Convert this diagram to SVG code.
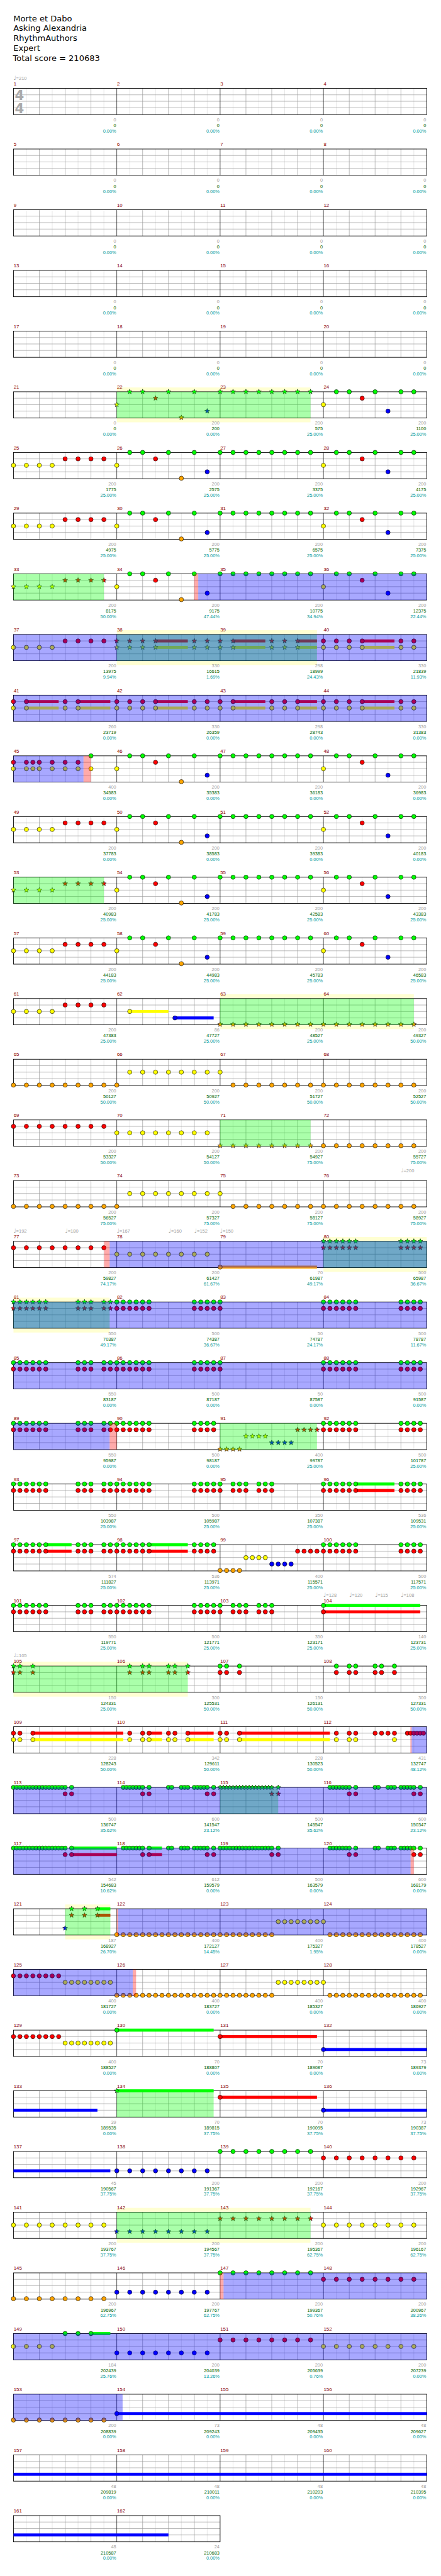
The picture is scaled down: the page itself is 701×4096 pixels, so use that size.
<svg xmlns="http://www.w3.org/2000/svg" width="701" height="4096" viewBox="0 0 701 4096">
<style>
.mn{font-family:"Liberation Sans",Arial,sans-serif;font-size:11.5px;fill:#8b0000}
.s1,.s2,.s3{font-family:"Liberation Sans",Arial,sans-serif;font-size:10.8px;text-anchor:end}
.s1{fill:#a0a0a0}.s2{fill:#006400}.s3{fill:#009999}
.tp{font-family:"Liberation Sans","DejaVu Sans",sans-serif;font-size:11px;fill:#a0a0a0}
.tt{font-family:"DejaVu Sans",sans-serif;font-size:19px;fill:#000}
.ts{font-family:"DejaVu Sans",sans-serif;font-weight:bold;font-size:31px;fill:#aaa}
.bl{fill:#0000ff;fill-opacity:.34}
.gr{fill:#00ff00;fill-opacity:.333}
.pk{fill:#ff0000;fill-opacity:.333}
.yb{fill:#ffffd2}
.kG{fill:#00ff00}.kR{fill:#ff0000}.kY{fill:#ffff00}.kB{fill:#0000ff}.kO{fill:#ffa500}
</style>
<defs>
<g id="staff4">
<rect width="960" height="61" fill="#fff"/>
<path d="M30 0V61M90 0V61M150 0V61M210 0V61M270 0V61M330 0V61M390 0V61M450 0V61M510 0V61M570 0V61M630 0V61M690 0V61M750 0V61M810 0V61M870 0V61M930 0V61" stroke="#dcdcdc"/>
<path d="M60 0V61M120 0V61M180 0V61M300 0V61M360 0V61M420 0V61M540 0V61M600 0V61M660 0V61M780 0V61M840 0V61M900 0V61M0 15H960M0 30H960M0 45H960" stroke="#999"/>
<path d="M240 0V61M480 0V61M720 0V61" stroke="#000"/>
<rect width="960" height="61" fill="none" stroke="#000" stroke-width="1.3"/>
</g>
<g id="staff2">
<rect width="480" height="61" fill="#fff"/>
<path d="M30 0V61M90 0V61M150 0V61M210 0V61M270 0V61M330 0V61M390 0V61M450 0V61" stroke="#dcdcdc"/>
<path d="M60 0V61M120 0V61M180 0V61M300 0V61M360 0V61M420 0V61M0 15H480M0 30H480M0 45H480" stroke="#999"/>
<path d="M240 0V61" stroke="#000"/>
<rect width="480" height="61" fill="none" stroke="#000" stroke-width="1.3"/>
</g>
<circle id="c" r="5" stroke="#000" stroke-width="0.9"/>
<polygon id="st" points="0,-6 1.53,-2.1 5.71,-1.85 2.47,0.8 3.53,4.85 0,2.6 -3.53,4.85 -2.47,0.8 -5.71,-1.85 -1.53,-2.1" stroke="#000" stroke-width="0.8"/>
<use id="G" href="#c" fill="#00ff00"/>
<use id="R" href="#c" y="15" fill="#ff0000"/>
<use id="Y" href="#c" y="30" fill="#ffff00"/>
<use id="B" href="#c" y="45" fill="#0000ff"/>
<use id="O" href="#c" y="60" fill="#ffa500"/>
<use id="sG" href="#st" fill="#00ff00"/>
<use id="sR" href="#st" y="15" fill="#ff0000"/>
<use id="sY" href="#st" y="30" fill="#ffff00"/>
<use id="sB" href="#st" y="45" fill="#0000ff"/>
<use id="sO" href="#st" y="60" fill="#ffa500"/>
<g id="G8"><use href="#G"/><use href="#G" x="30"/><use href="#G" x="60"/><use href="#G" x="90"/><use href="#G" x="120"/><use href="#G" x="150"/><use href="#G" x="180"/><use href="#G" x="210"/></g>
<g id="R8"><use href="#R"/><use href="#R" x="30"/><use href="#R" x="60"/><use href="#R" x="90"/><use href="#R" x="120"/><use href="#R" x="150"/><use href="#R" x="180"/><use href="#R" x="210"/></g>
<g id="Y8"><use href="#Y"/><use href="#Y" x="30"/><use href="#Y" x="60"/><use href="#Y" x="90"/><use href="#Y" x="120"/><use href="#Y" x="150"/><use href="#Y" x="180"/><use href="#Y" x="210"/></g>
<g id="B8"><use href="#B"/><use href="#B" x="30"/><use href="#B" x="60"/><use href="#B" x="90"/><use href="#B" x="120"/><use href="#B" x="150"/><use href="#B" x="180"/><use href="#B" x="210"/></g>
<g id="O8"><use href="#O"/><use href="#O" x="30"/><use href="#O" x="60"/><use href="#O" x="90"/><use href="#O" x="120"/><use href="#O" x="150"/><use href="#O" x="180"/><use href="#O" x="210"/></g>
<g id="sG8"><use href="#sG"/><use href="#sG" x="30"/><use href="#sG" x="60"/><use href="#sG" x="90"/><use href="#sG" x="120"/><use href="#sG" x="150"/><use href="#sG" x="180"/><use href="#sG" x="210"/></g>
<g id="sR8"><use href="#sR"/><use href="#sR" x="30"/><use href="#sR" x="60"/><use href="#sR" x="90"/><use href="#sR" x="120"/><use href="#sR" x="150"/><use href="#sR" x="180"/><use href="#sR" x="210"/></g>
<g id="sB8"><use href="#sB"/><use href="#sB" x="30"/><use href="#sB" x="60"/><use href="#sB" x="90"/><use href="#sB" x="120"/><use href="#sB" x="150"/><use href="#sB" x="180"/><use href="#sB" x="210"/></g>
<g id="sO8"><use href="#sO"/><use href="#sO" x="30"/><use href="#sO" x="60"/><use href="#sO" x="90"/><use href="#sO" x="120"/><use href="#sO" x="150"/><use href="#sO" x="180"/><use href="#sO" x="210"/></g>
<g id="Y4"><use href="#Y"/><use href="#Y" x="30"/><use href="#Y" x="60"/><use href="#Y" x="90"/></g>
<g id="R4"><use href="#R"/><use href="#R" x="30"/><use href="#R" x="60"/><use href="#R" x="90"/></g>
<g id="sY4"><use href="#sY"/><use href="#sY" x="30"/><use href="#sY" x="60"/><use href="#sY" x="90"/></g>
<g id="sR4"><use href="#sR"/><use href="#sR" x="30"/><use href="#sR" x="60"/><use href="#sR" x="90"/></g>
<g id="pR1"><use href="#Y4"/><use href="#R4" x="120"/></g>
<g id="sR1"><use href="#sY4"/><use href="#sR4" x="120"/></g>
<g id="pR2"><use href="#Y"/><use href="#G" x="30"/><use href="#G" x="60"/><use href="#R" x="90"/><use href="#G" x="120"/><use href="#O" x="150"/><use href="#G" x="180"/><use href="#B" x="210"/></g>
<g id="sR2"><use href="#sY"/><use href="#sG" x="30"/><use href="#sG" x="60"/><use href="#sR" x="90"/><use href="#sG" x="120"/><use href="#sO" x="150"/><use href="#sG" x="180"/><use href="#sB" x="210"/></g>
<g id="pR4"><use href="#Y"/><use href="#G" x="30"/><use href="#G" x="60"/><use href="#R" x="90"/><use href="#G" x="120"/><use href="#B" x="150"/><use href="#G" x="180"/><use href="#G" x="210"/></g>
<g id="rowR"><use href="#pR1"/><use href="#pR2" x="240"/><use href="#G8" x="480"/><use href="#pR4" x="720"/></g>
<g id="rowS"><use href="#sR1"/><use href="#pR2" x="240"/><use href="#G8" x="480"/><use href="#pR4" x="720"/></g>
<g id="rowOY"><use href="#O8"/><use href="#O" x="240"/><use href="#Y8" x="270"/><use href="#O8" x="510"/><use href="#O" x="750"/><use href="#O" x="780"/><use href="#O" x="810"/><use href="#O" x="840"/><use href="#O" x="870"/><use href="#O" x="900"/><use href="#O" x="930"/></g>
<g id="C"><use href="#G"/><use href="#R"/></g>
<g id="SC"><use href="#sG"/><use href="#sR"/></g>
<g id="RY"><use href="#R"/><use href="#Y"/></g>
<g id="sRY"><use href="#sR"/><use href="#sY"/></g>
<g id="Pa"><use href="#C"/><use href="#C" x="15"/><use href="#C" x="30"/><use href="#C" x="45"/><use href="#C" x="60"/><use href="#C" x="75"/><use href="#C" x="150"/><use href="#C" x="165"/><use href="#C" x="180"/><use href="#C" x="210"/><use href="#C" x="225"/><use href="#C" x="240"/><use href="#C" x="255"/><use href="#C" x="270"/><use href="#C" x="285"/><use href="#C" x="300"/><use href="#C" x="315"/><use href="#C" x="420"/><use href="#C" x="435"/><use href="#C" x="450"/><use href="#C" x="465"/></g>
<g id="Pb"><use href="#C"/><use href="#C" x="15"/><use href="#C" x="30"/><use href="#C" x="45"/><use href="#C" x="60"/><use href="#C" x="75"/><use href="#C" x="180"/><use href="#C" x="195"/><use href="#C" x="210"/><use href="#C" x="225"/></g>
<g id="Pc"><use href="#C"/><use href="#C" x="30"/><use href="#C" x="45"/><use href="#C" x="60"/><use href="#C" x="90"/><use href="#C" x="105"/><use href="#C" x="120"/></g>
<g id="run"><use href="#O"/><use href="#O" x="15"/><use href="#O" x="30"/><use href="#O" x="45"/><use href="#Y" x="60"/><use href="#Y" x="75"/><use href="#Y" x="90"/><use href="#Y" x="105"/><use href="#B" x="120"/><use href="#B" x="135"/><use href="#B" x="150"/><use href="#B" x="165"/><use href="#R" x="180"/><use href="#R" x="195"/><use href="#R" x="210"/><use href="#R" x="225"/></g>
<g id="srun"><use href="#sO"/><use href="#sO" x="15"/><use href="#sO" x="30"/><use href="#sO" x="45"/><use href="#sY" x="60"/><use href="#sY" x="75"/><use href="#sY" x="90"/><use href="#sY" x="105"/><use href="#sB" x="120"/><use href="#sB" x="135"/><use href="#sB" x="150"/><use href="#sB" x="165"/><use href="#sR" x="180"/><use href="#sR" x="195"/><use href="#sR" x="210"/><use href="#sR" x="225"/></g>
<g id="RYa"><use href="#RY" x="240"/><use href="#RY" x="270"/><use href="#RY" x="300"/><use href="#RY" x="330"/><use href="#RY" x="420"/><use href="#RY" x="450"/><use href="#RY" x="480"/><use href="#RY" x="510"/><use href="#RY" x="600"/><use href="#RY" x="630"/><use href="#RY" x="660"/></g>
<g id="sRYa"><use href="#sRY" x="240"/><use href="#sRY" x="270"/><use href="#sRY" x="300"/><use href="#sRY" x="330"/><use href="#sRY" x="420"/><use href="#sRY" x="450"/><use href="#sRY" x="480"/><use href="#sRY" x="510"/><use href="#sRY" x="600"/><use href="#sRY" x="630"/><use href="#sRY" x="660"/></g>
<g id="RYb"><use href="#RY" x="720"/><use href="#RY" x="750"/><use href="#RY" x="780"/><use href="#RY" x="810"/><use href="#RY" x="900"/><use href="#RY" x="930"/></g>
<g id="RYs"><rect class="kR" x="330" y="11.5" width="75" height="7"/><rect class="kY" x="330" y="26.5" width="75" height="7"/><rect class="kR" x="510" y="11.5" width="75" height="7"/><rect class="kY" x="510" y="26.5" width="75" height="7"/><rect class="kR" x="660" y="11.5" width="45" height="7"/><rect class="kY" x="660" y="26.5" width="45" height="7"/><rect class="kR" x="810" y="11.5" width="75" height="7"/><rect class="kY" x="810" y="26.5" width="75" height="7"/></g>
<g id="D1"><use href="#G"/><use href="#G" x="7.5"/><use href="#G" x="15"/><use href="#G" x="22.5"/><use href="#G" x="30"/><use href="#G" x="37.5"/><use href="#G" x="45"/><use href="#G" x="52.5"/><use href="#G" x="60"/><use href="#G" x="67.5"/><use href="#G" x="75"/><use href="#G" x="82.5"/><use href="#G" x="90"/><use href="#G" x="97.5"/><use href="#G" x="105"/><use href="#G" x="112.5"/><use href="#G" x="120"/><use href="#G" x="135"/><use href="#R" x="120"/><use href="#R" x="135"/></g>
<g id="sD1"><use href="#sG"/><use href="#sG" x="7.5"/><use href="#sG" x="15"/><use href="#sG" x="22.5"/><use href="#sG" x="30"/><use href="#sG" x="37.5"/><use href="#sG" x="45"/><use href="#sG" x="52.5"/><use href="#sG" x="60"/><use href="#sG" x="67.5"/><use href="#sG" x="75"/><use href="#sG" x="82.5"/><use href="#sG" x="90"/><use href="#sG" x="97.5"/><use href="#sG" x="105"/><use href="#sG" x="112.5"/><use href="#sG" x="120"/><use href="#sG" x="135"/><use href="#sR" x="120"/><use href="#sR" x="135"/></g>
<g id="D2"><use href="#G" x="15"/><use href="#G" x="22.5"/><use href="#G" x="30"/><use href="#G" x="37.5"/><use href="#G" x="45"/><use href="#G" x="52.5"/><use href="#G" x="60"/><use href="#G" x="75"/><use href="#G" x="120"/><use href="#G" x="127.5"/><use href="#G" x="150"/><use href="#G" x="157.5"/><use href="#G" x="165"/><use href="#G" x="180"/><use href="#G" x="187.5"/><use href="#G" x="195"/><use href="#G" x="202.5"/><use href="#G" x="210"/><use href="#G" x="225"/><use href="#R" x="60"/><use href="#R" x="75"/><use href="#R" x="210"/><use href="#R" x="225"/></g>
<g id="O8q"><use href="#O"/><use href="#O" x="15"/><use href="#O" x="30"/><use href="#O" x="45"/><use href="#O" x="60"/><use href="#O" x="75"/><use href="#O" x="90"/><use href="#O" x="105"/></g>
<g id="Y8q"><use href="#Y"/><use href="#Y" x="15"/><use href="#Y" x="30"/><use href="#Y" x="45"/><use href="#Y" x="60"/><use href="#Y" x="75"/><use href="#Y" x="90"/><use href="#Y" x="105"/></g>
<g id="R8q"><use href="#R"/><use href="#R" x="15"/><use href="#R" x="30"/><use href="#R" x="45"/><use href="#R" x="60"/><use href="#R" x="75"/><use href="#R" x="90"/><use href="#R" x="105"/></g>
<g id="oyr"><use href="#O8q" x="240"/><use href="#O8q" x="360"/><use href="#O8q" x="480"/><use href="#O" x="600"/><use href="#Y8q" x="615"/><use href="#O8q" x="735"/><use href="#O" x="855"/><use href="#O" x="870"/><use href="#O" x="885"/><use href="#O" x="900"/><use href="#O" x="915"/><use href="#O" x="930"/><use href="#O" x="945"/></g>
</defs>
<rect width="701" height="4096" fill="#fff"/>
<g transform="scale(0.6843)">
<g id="title">
<text class="tt" x="31" y="49.3">Morte et Dabo</text>
<text class="tt" x="31" y="72">Asking Alexandria</text>
<text class="tt" x="31" y="95">RhythmAuthors</text>
<text class="tt" x="31" y="118">Expert</text>
<text class="tt" x="30" y="141.3">Total score = 210683</text>
</g>

<g id="r1" transform="translate(31.3,205.3)">
<use href="#staff4"/>
<text class="ts" x="3" y="27.4">4</text><text class="ts" x="3" y="57.4">4</text>
<text class="tp" x="0" y="-20"><tspan font-family="DejaVu Sans" font-size="13">♩</tspan>=210</text>
<text class="mn" y="-7"><tspan x="0.5">1</tspan><tspan x="240.5">2</tspan><tspan x="480.5">3</tspan><tspan x="720.5">4</tspan></text>
<text class="s1" y="76.7"><tspan x="238.5">0</tspan><tspan x="478.5">0</tspan><tspan x="718.5">0</tspan><tspan x="958.5">0</tspan></text>
<text class="s2" y="90"><tspan x="238.5">0</tspan><tspan x="478.5">0</tspan><tspan x="718.5">0</tspan><tspan x="958.5">0</tspan></text>
<text class="s3" y="103"><tspan x="238.5">0.00%</tspan><tspan x="478.5">0.00%</tspan><tspan x="718.5">0.00%</tspan><tspan x="958.5">0.00%</tspan></text>
</g>
<g id="r2" transform="translate(31.3,346.3)">
<use href="#staff4"/>
<text class="mn" y="-7"><tspan x="0.5">5</tspan><tspan x="240.5">6</tspan><tspan x="480.5">7</tspan><tspan x="720.5">8</tspan></text>
<text class="s1" y="76.7"><tspan x="238.5">0</tspan><tspan x="478.5">0</tspan><tspan x="718.5">0</tspan><tspan x="958.5">0</tspan></text>
<text class="s2" y="90"><tspan x="238.5">0</tspan><tspan x="478.5">0</tspan><tspan x="718.5">0</tspan><tspan x="958.5">0</tspan></text>
<text class="s3" y="103"><tspan x="238.5">0.00%</tspan><tspan x="478.5">0.00%</tspan><tspan x="718.5">0.00%</tspan><tspan x="958.5">0.00%</tspan></text>
</g>
<g id="r3" transform="translate(31.3,487.3)">
<use href="#staff4"/>
<text class="mn" y="-7"><tspan x="0.5">9</tspan><tspan x="240.5">10</tspan><tspan x="480.5">11</tspan><tspan x="720.5">12</tspan></text>
<text class="s1" y="76.7"><tspan x="238.5">0</tspan><tspan x="478.5">0</tspan><tspan x="718.5">0</tspan><tspan x="958.5">0</tspan></text>
<text class="s2" y="90"><tspan x="238.5">0</tspan><tspan x="478.5">0</tspan><tspan x="718.5">0</tspan><tspan x="958.5">0</tspan></text>
<text class="s3" y="103"><tspan x="238.5">0.00%</tspan><tspan x="478.5">0.00%</tspan><tspan x="718.5">0.00%</tspan><tspan x="958.5">0.00%</tspan></text>
</g>
<g id="r4" transform="translate(31.3,628.3)">
<use href="#staff4"/>
<text class="mn" y="-7"><tspan x="0.5">13</tspan><tspan x="240.5">14</tspan><tspan x="480.5">15</tspan><tspan x="720.5">16</tspan></text>
<text class="s1" y="76.7"><tspan x="238.5">0</tspan><tspan x="478.5">0</tspan><tspan x="718.5">0</tspan><tspan x="958.5">0</tspan></text>
<text class="s2" y="90"><tspan x="238.5">0</tspan><tspan x="478.5">0</tspan><tspan x="718.5">0</tspan><tspan x="958.5">0</tspan></text>
<text class="s3" y="103"><tspan x="238.5">0.00%</tspan><tspan x="478.5">0.00%</tspan><tspan x="718.5">0.00%</tspan><tspan x="958.5">0.00%</tspan></text>
</g>
<g id="r5" transform="translate(31.3,769.3)">
<use href="#staff4"/>
<text class="mn" y="-7"><tspan x="0.5">17</tspan><tspan x="240.5">18</tspan><tspan x="480.5">19</tspan><tspan x="720.5">20</tspan></text>
<text class="s1" y="76.7"><tspan x="238.5">0</tspan><tspan x="478.5">0</tspan><tspan x="718.5">0</tspan><tspan x="958.5">0</tspan></text>
<text class="s2" y="90"><tspan x="238.5">0</tspan><tspan x="478.5">0</tspan><tspan x="718.5">0</tspan><tspan x="958.5">0</tspan></text>
<text class="s3" y="103"><tspan x="238.5">0.00%</tspan><tspan x="478.5">0.00%</tspan><tspan x="718.5">0.00%</tspan><tspan x="958.5">0.00%</tspan></text>
</g>
<g id="r6" transform="translate(31.3,910.3)">
<rect class="yb" x="240" y="-10" width="450" height="81"/>
<use href="#staff4"/>
<use href="#sR2" x="240"/><use href="#sG8" x="480"/><use href="#pR4" x="720"/>
<rect class="gr" x="240" width="450" height="61"/>
<text class="mn" y="-7"><tspan x="0.5">21</tspan><tspan x="240.5">22</tspan><tspan x="480.5">23</tspan><tspan x="720.5">24</tspan></text>
<text class="s1" y="76.7"><tspan x="238.5">0</tspan><tspan x="478.5">200</tspan><tspan x="718.5">200</tspan><tspan x="958.5">200</tspan></text>
<text class="s2" y="90"><tspan x="238.5">0</tspan><tspan x="478.5">200</tspan><tspan x="718.5">575</tspan><tspan x="958.5">1100</tspan></text>
<text class="s3" y="103"><tspan x="238.5">0.00%</tspan><tspan x="478.5">0.00%</tspan><tspan x="718.5">25.00%</tspan><tspan x="958.5">25.00%</tspan></text>
</g>
<g id="r7" transform="translate(31.3,1051.3)">
<use href="#staff4"/><use href="#rowR"/>
<text class="mn" y="-7"><tspan x="0.5">25</tspan><tspan x="240.5">26</tspan><tspan x="480.5">27</tspan><tspan x="720.5">28</tspan></text>
<text class="s1" y="76.7"><tspan x="238.5">200</tspan><tspan x="478.5">200</tspan><tspan x="718.5">200</tspan><tspan x="958.5">200</tspan></text>
<text class="s2" y="90"><tspan x="238.5">1775</tspan><tspan x="478.5">2575</tspan><tspan x="718.5">3375</tspan><tspan x="958.5">4175</tspan></text>
<text class="s3" y="103"><tspan x="238.5">25.00%</tspan><tspan x="478.5">25.00%</tspan><tspan x="718.5">25.00%</tspan><tspan x="958.5">25.00%</tspan></text>
</g>
<g id="r8" transform="translate(31.3,1192.3)">
<use href="#staff4"/><use href="#rowR"/>
<text class="mn" y="-7"><tspan x="0.5">29</tspan><tspan x="240.5">30</tspan><tspan x="480.5">31</tspan><tspan x="720.5">32</tspan></text>
<text class="s1" y="76.7"><tspan x="238.5">200</tspan><tspan x="478.5">200</tspan><tspan x="718.5">200</tspan><tspan x="958.5">200</tspan></text>
<text class="s2" y="90"><tspan x="238.5">4975</tspan><tspan x="478.5">5775</tspan><tspan x="718.5">6575</tspan><tspan x="958.5">7375</tspan></text>
<text class="s3" y="103"><tspan x="238.5">25.00%</tspan><tspan x="478.5">25.00%</tspan><tspan x="718.5">25.00%</tspan><tspan x="958.5">25.00%</tspan></text>
</g>
<g id="r9" transform="translate(31.3,1333.3)">
<use href="#staff4"/><use href="#rowS"/>
<rect class="gr" x="0" width="210" height="61"/>
<rect class="pk" x="420" width="9.2" height="61"/>
<rect class="bl" x="429.2" width="530.8" height="61"/>
<text class="mn" y="-7"><tspan x="0.5">33</tspan><tspan x="240.5">34</tspan><tspan x="480.5">35</tspan><tspan x="720.5">36</tspan></text>
<text class="s1" y="76.7"><tspan x="238.5">200</tspan><tspan x="478.5">200</tspan><tspan x="718.5">200</tspan><tspan x="958.5">200</tspan></text>
<text class="s2" y="90"><tspan x="238.5">8175</tspan><tspan x="478.5">9175</tspan><tspan x="718.5">10775</tspan><tspan x="958.5">12375</tspan></text>
<text class="s3" y="103"><tspan x="238.5">50.00%</tspan><tspan x="478.5">47.44%</tspan><tspan x="718.5">34.94%</tspan><tspan x="958.5">22.44%</tspan></text>
</g>
<g id="r10" transform="translate(31.3,1474.3)">
<rect class="yb" x="240" y="-10" width="465" height="81"/>
<use href="#staff4"/>
<use href="#RYs"/>
<use href="#pR1"/><use href="#sRYa"/><use href="#RYb"/>
<rect class="gr" x="240" width="465" height="61"/>
<rect class="bl" x="0" width="960" height="61"/>
<text class="mn" y="-7"><tspan x="0.5">37</tspan><tspan x="240.5">38</tspan><tspan x="480.5">39</tspan><tspan x="720.5">40</tspan></text>
<text class="s1" y="76.7"><tspan x="238.5">200</tspan><tspan x="478.5">330</tspan><tspan x="718.5">298</tspan><tspan x="958.5">330</tspan></text>
<text class="s2" y="90"><tspan x="238.5">13975</tspan><tspan x="478.5">16615</tspan><tspan x="718.5">18999</tspan><tspan x="958.5">21839</tspan></text>
<text class="s3" y="103"><tspan x="238.5">9.94%</tspan><tspan x="478.5">1.69%</tspan><tspan x="718.5">24.43%</tspan><tspan x="958.5">11.93%</tspan></text>
</g>
<g id="r11" transform="translate(31.3,1615.3)">
<use href="#staff4"/>
<use href="#RYs"/>
<rect class="kR" x="30" y="11.5" width="75" height="7"/><rect class="kY" x="30" y="26.5" width="75" height="7"/>
<rect class="kR" x="150" y="11.5" width="75" height="7"/><rect class="kY" x="150" y="26.5" width="75" height="7"/>
<use href="#RY"/><use href="#RY" x="30"/><use href="#RY" x="120"/><use href="#RY" x="150"/>
<use href="#RYa"/><use href="#RYb"/>
<rect class="bl" x="0" width="960" height="61"/>
<text class="mn" y="-7"><tspan x="0.5">41</tspan><tspan x="240.5">42</tspan><tspan x="480.5">43</tspan><tspan x="720.5">44</tspan></text>
<text class="s1" y="76.7"><tspan x="238.5">260</tspan><tspan x="478.5">330</tspan><tspan x="718.5">298</tspan><tspan x="958.5">330</tspan></text>
<text class="s2" y="90"><tspan x="238.5">23719</tspan><tspan x="478.5">26359</tspan><tspan x="718.5">28743</tspan><tspan x="958.5">31383</tspan></text>
<text class="s3" y="103"><tspan x="238.5">0.00%</tspan><tspan x="478.5">0.00%</tspan><tspan x="718.5">0.00%</tspan><tspan x="958.5">0.00%</tspan></text>
</g>
<g id="r12" transform="translate(31.3,1756.3)">
<use href="#staff4"/>
<use href="#RY"/><use href="#RY" x="30"/><use href="#RY" x="45"/><use href="#RY" x="60"/><use href="#RY" x="90"/><use href="#RY" x="120"/><use href="#RY" x="150"/>
<use href="#G" x="180"/><use href="#Y" x="180"/>
<use href="#pR2" x="240"/><use href="#G8" x="480"/><use href="#pR4" x="720"/>
<rect class="bl" x="0" width="162.7" height="61"/>
<rect class="pk" x="162.7" width="17.3" height="61"/>
<text class="mn" y="-7"><tspan x="0.5">45</tspan><tspan x="240.5">46</tspan><tspan x="480.5">47</tspan><tspan x="720.5">48</tspan></text>
<text class="s1" y="76.7"><tspan x="238.5">400</tspan><tspan x="478.5">200</tspan><tspan x="718.5">200</tspan><tspan x="958.5">200</tspan></text>
<text class="s2" y="90"><tspan x="238.5">34583</tspan><tspan x="478.5">35383</tspan><tspan x="718.5">36183</tspan><tspan x="958.5">36983</tspan></text>
<text class="s3" y="103"><tspan x="238.5">0.00%</tspan><tspan x="478.5">0.00%</tspan><tspan x="718.5">0.00%</tspan><tspan x="958.5">0.00%</tspan></text>
</g>
<g id="r13" transform="translate(31.3,1897.3)">
<use href="#staff4"/><use href="#rowR"/>
<text class="mn" y="-7"><tspan x="0.5">49</tspan><tspan x="240.5">50</tspan><tspan x="480.5">51</tspan><tspan x="720.5">52</tspan></text>
<text class="s1" y="76.7"><tspan x="238.5">200</tspan><tspan x="478.5">200</tspan><tspan x="718.5">200</tspan><tspan x="958.5">200</tspan></text>
<text class="s2" y="90"><tspan x="238.5">37783</tspan><tspan x="478.5">38583</tspan><tspan x="718.5">39383</tspan><tspan x="958.5">40183</tspan></text>
<text class="s3" y="103"><tspan x="238.5">0.00%</tspan><tspan x="478.5">0.00%</tspan><tspan x="718.5">0.00%</tspan><tspan x="958.5">0.00%</tspan></text>
</g>
<g id="r14" transform="translate(31.3,2038.3)">
<use href="#staff4"/><use href="#rowS"/>
<rect class="gr" x="0" width="210" height="61"/>
<text class="mn" y="-7"><tspan x="0.5">53</tspan><tspan x="240.5">54</tspan><tspan x="480.5">55</tspan><tspan x="720.5">56</tspan></text>
<text class="s1" y="76.7"><tspan x="238.5">200</tspan><tspan x="478.5">200</tspan><tspan x="718.5">200</tspan><tspan x="958.5">200</tspan></text>
<text class="s2" y="90"><tspan x="238.5">40983</tspan><tspan x="478.5">41783</tspan><tspan x="718.5">42583</tspan><tspan x="958.5">43383</tspan></text>
<text class="s3" y="103"><tspan x="238.5">25.00%</tspan><tspan x="478.5">25.00%</tspan><tspan x="718.5">25.00%</tspan><tspan x="958.5">25.00%</tspan></text>
</g>
<g id="r15" transform="translate(31.3,2179.3)">
<use href="#staff4"/><use href="#rowR"/>
<text class="mn" y="-7"><tspan x="0.5">57</tspan><tspan x="240.5">58</tspan><tspan x="480.5">59</tspan><tspan x="720.5">60</tspan></text>
<text class="s1" y="76.7"><tspan x="238.5">200</tspan><tspan x="478.5">200</tspan><tspan x="718.5">200</tspan><tspan x="958.5">200</tspan></text>
<text class="s2" y="90"><tspan x="238.5">44183</tspan><tspan x="478.5">44983</tspan><tspan x="718.5">45783</tspan><tspan x="958.5">46583</tspan></text>
<text class="s3" y="103"><tspan x="238.5">25.00%</tspan><tspan x="478.5">25.00%</tspan><tspan x="718.5">25.00%</tspan><tspan x="958.5">25.00%</tspan></text>
</g>
<g id="r16" transform="translate(31.3,2320.3)">
<rect class="yb" x="480" y="-10" width="450" height="81"/>
<use href="#staff4"/>
<rect class="kY" x="270" y="26.5" width="90" height="7"/><rect class="kB" x="375" y="41.5" width="90" height="7"/>
<use href="#pR1"/><use href="#Y" x="270"/><use href="#B" x="375"/>
<use href="#sO8" x="480"/><use href="#sO8" x="720"/>
<rect class="gr" x="480" width="450" height="61"/>
<text class="mn" y="-7"><tspan x="0.5">61</tspan><tspan x="240.5">62</tspan><tspan x="480.5">63</tspan><tspan x="720.5">64</tspan></text>
<text class="s1" y="76.7"><tspan x="238.5">200</tspan><tspan x="478.5">86</tspan><tspan x="718.5">200</tspan><tspan x="958.5">200</tspan></text>
<text class="s2" y="90"><tspan x="238.5">47383</tspan><tspan x="478.5">47727</tspan><tspan x="718.5">48527</tspan><tspan x="958.5">49327</tspan></text>
<text class="s3" y="103"><tspan x="238.5">25.00%</tspan><tspan x="478.5">25.00%</tspan><tspan x="718.5">25.00%</tspan><tspan x="958.5">50.00%</tspan></text>
</g>
<g id="r17" transform="translate(31.3,2461.3)">
<use href="#staff4"/><use href="#rowOY"/>
<text class="mn" y="-7"><tspan x="0.5">65</tspan><tspan x="240.5">66</tspan><tspan x="480.5">67</tspan><tspan x="720.5">68</tspan></text>
<text class="s1" y="76.7"><tspan x="238.5">200</tspan><tspan x="478.5">200</tspan><tspan x="718.5">200</tspan><tspan x="958.5">200</tspan></text>
<text class="s2" y="90"><tspan x="238.5">50127</tspan><tspan x="478.5">50927</tspan><tspan x="718.5">51727</tspan><tspan x="958.5">52527</tspan></text>
<text class="s3" y="103"><tspan x="238.5">50.00%</tspan><tspan x="478.5">50.00%</tspan><tspan x="718.5">50.00%</tspan><tspan x="958.5">50.00%</tspan></text>
</g>
<g id="r18" transform="translate(31.3,2602.3)">
<use href="#staff4"/>
<use href="#R8"/><use href="#Y8" x="240"/><use href="#sO8" x="480"/><use href="#O8" x="720"/>
<rect class="gr" x="480" width="210" height="61"/>
<text class="mn" y="-7"><tspan x="0.5">69</tspan><tspan x="240.5">70</tspan><tspan x="480.5">71</tspan><tspan x="720.5">72</tspan></text>
<text class="s1" y="76.7"><tspan x="238.5">200</tspan><tspan x="478.5">200</tspan><tspan x="718.5">200</tspan><tspan x="958.5">200</tspan></text>
<text class="s2" y="90"><tspan x="238.5">53327</tspan><tspan x="478.5">54127</tspan><tspan x="718.5">54927</tspan><tspan x="958.5">55727</tspan></text>
<text class="s3" y="103"><tspan x="238.5">50.00%</tspan><tspan x="478.5">50.00%</tspan><tspan x="718.5">75.00%</tspan><tspan x="958.5">75.00%</tspan></text>
</g>
<g id="r19" transform="translate(31.3,2743.3)">
<use href="#staff4"/><use href="#rowOY"/>
<text class="tp" x="900" y="-20"><tspan font-family="DejaVu Sans" font-size="13">♩</tspan>=200</text>
<text class="mn" y="-7"><tspan x="0.5">73</tspan><tspan x="240.5">74</tspan><tspan x="480.5">75</tspan><tspan x="720.5">76</tspan></text>
<text class="s1" y="76.7"><tspan x="238.5">200</tspan><tspan x="478.5">200</tspan><tspan x="718.5">200</tspan><tspan x="958.5">200</tspan></text>
<text class="s2" y="90"><tspan x="238.5">56527</tspan><tspan x="478.5">57327</tspan><tspan x="718.5">58127</tspan><tspan x="958.5">58927</tspan></text>
<text class="s3" y="103"><tspan x="238.5">75.00%</tspan><tspan x="478.5">75.00%</tspan><tspan x="718.5">75.00%</tspan><tspan x="958.5">75.00%</tspan></text>
</g>
<g id="r20" transform="translate(31.3,2884.3)">
<rect class="yb" x="720" y="-10" width="240" height="81"/>
<use href="#staff4"/>
<rect class="kO" x="480" y="56.5" width="225" height="7"/>
<use href="#R8"/><use href="#Y8" x="240"/><use href="#O" x="480"/>
<use href="#SC" x="720"/><use href="#SC" x="735"/><use href="#SC" x="750"/><use href="#SC" x="765"/><use href="#SC" x="780"/><use href="#SC" x="795"/><use href="#SC" x="900"/><use href="#SC" x="915"/><use href="#SC" x="930"/><use href="#SC" x="945"/>
<rect class="gr" x="720" width="240" height="61"/>
<rect class="pk" x="210.4" width="13" height="61"/>
<rect class="bl" x="223.4" width="736.6" height="61"/>
<text class="tp" y="-20"><tspan x="0"><tspan font-family="DejaVu Sans" font-size="13">♩</tspan>=192</tspan><tspan x="120"><tspan font-family="DejaVu Sans" font-size="13">♩</tspan>=180</tspan><tspan x="240"><tspan font-family="DejaVu Sans" font-size="13">♩</tspan>=167</tspan><tspan x="360"><tspan font-family="DejaVu Sans" font-size="13">♩</tspan>=160</tspan><tspan x="420"><tspan font-family="DejaVu Sans" font-size="13">♩</tspan>=152</tspan><tspan x="480"><tspan font-family="DejaVu Sans" font-size="13">♩</tspan>=150</tspan></text>
<text class="mn" y="-7"><tspan x="0.5">77</tspan><tspan x="240.5">78</tspan><tspan x="480.5">79</tspan><tspan x="720.5">80</tspan></text>
<text class="s1" y="76.7"><tspan x="238.5">200</tspan><tspan x="478.5">200</tspan><tspan x="718.5">70</tspan><tspan x="958.5">500</tspan></text>
<text class="s2" y="90"><tspan x="238.5">59827</tspan><tspan x="478.5">61427</tspan><tspan x="718.5">61987</tspan><tspan x="958.5">65987</tspan></text>
<text class="s3" y="103"><tspan x="238.5">74.17%</tspan><tspan x="478.5">61.67%</tspan><tspan x="718.5">49.17%</tspan><tspan x="958.5">36.67%</tspan></text>
</g>
<g id="r21" transform="translate(31.3,3025.3)">
<rect class="yb" x="0" y="-10" width="223.4" height="81"/>
<use href="#staff4"/>
<use href="#SC"/><use href="#SC" x="15"/><use href="#SC" x="30"/><use href="#SC" x="45"/><use href="#SC" x="60"/><use href="#SC" x="75"/><use href="#SC" x="150"/><use href="#SC" x="165"/><use href="#SC" x="180"/><use href="#SC" x="210"/><use href="#SC" x="225"/>
<use href="#C" x="240"/><use href="#C" x="255"/><use href="#C" x="270"/><use href="#C" x="285"/><use href="#C" x="300"/><use href="#C" x="315"/><use href="#C" x="420"/><use href="#C" x="435"/><use href="#C" x="450"/><use href="#C" x="465"/><use href="#C" x="480"/>
<use href="#Pb" x="720"/>
<rect class="gr" x="0" width="223.4" height="61"/>
<rect class="bl" x="0" width="960" height="61"/>
<text class="mn" y="-7"><tspan x="0.5">81</tspan><tspan x="240.5">82</tspan><tspan x="480.5">83</tspan><tspan x="720.5">84</tspan></text>
<text class="s1" y="76.7"><tspan x="238.5">550</tspan><tspan x="478.5">500</tspan><tspan x="718.5">50</tspan><tspan x="958.5">500</tspan></text>
<text class="s2" y="90"><tspan x="238.5">70387</tspan><tspan x="478.5">74387</tspan><tspan x="718.5">74787</tspan><tspan x="958.5">78787</tspan></text>
<text class="s3" y="103"><tspan x="238.5">49.17%</tspan><tspan x="478.5">36.67%</tspan><tspan x="718.5">24.17%</tspan><tspan x="958.5">11.67%</tspan></text>
</g>
<g id="r22" transform="translate(31.3,3166.3)">
<use href="#staff4"/>
<use href="#Pa"/><use href="#C" x="480"/><use href="#Pb" x="720"/>
<rect class="bl" x="0" width="960" height="61"/>
<text class="mn" y="-7"><tspan x="0.5">85</tspan><tspan x="240.5">86</tspan><tspan x="480.5">87</tspan><tspan x="720.5">88</tspan></text>
<text class="s1" y="76.7"><tspan x="238.5">550</tspan><tspan x="478.5">500</tspan><tspan x="718.5">50</tspan><tspan x="958.5">500</tspan></text>
<text class="s2" y="90"><tspan x="238.5">83187</tspan><tspan x="478.5">87187</tspan><tspan x="718.5">87587</tspan><tspan x="958.5">91587</tspan></text>
<text class="s3" y="103"><tspan x="238.5">0.00%</tspan><tspan x="478.5">0.00%</tspan><tspan x="718.5">0.00%</tspan><tspan x="958.5">0.00%</tspan></text>
</g>
<g id="r23" transform="translate(31.3,3307.3)">
<use href="#staff4"/>
<use href="#Pa"/><use href="#srun" x="480"/><use href="#Pb" x="720"/>
<rect class="bl" x="0" width="223.4" height="61"/>
<rect class="pk" x="223.4" width="16.6" height="61"/>
<rect class="gr" x="480" width="225" height="61"/>
<text class="mn" y="-7"><tspan x="0.5">89</tspan><tspan x="240.5">90</tspan><tspan x="480.5">91</tspan><tspan x="720.5">92</tspan></text>
<text class="s1" y="76.7"><tspan x="238.5">550</tspan><tspan x="478.5">500</tspan><tspan x="718.5">400</tspan><tspan x="958.5">500</tspan></text>
<text class="s2" y="90"><tspan x="238.5">95987</tspan><tspan x="478.5">98187</tspan><tspan x="718.5">99787</tspan><tspan x="958.5">101787</tspan></text>
<text class="s3" y="103"><tspan x="238.5">0.00%</tspan><tspan x="478.5">0.00%</tspan><tspan x="718.5">25.00%</tspan><tspan x="958.5">25.00%</tspan></text>
</g>
<g id="r24" transform="translate(31.3,3448.3)">
<use href="#staff4"/>
<rect class="kG" x="795" y="-3.5" width="90" height="7"/><rect class="kR" x="795" y="11.5" width="90" height="7"/>
<use href="#Pa"/><use href="#Pc" x="480"/><use href="#Pb" x="720"/>
<text class="mn" y="-7"><tspan x="0.5">93</tspan><tspan x="240.5">94</tspan><tspan x="480.5">95</tspan><tspan x="720.5">96</tspan></text>
<text class="s1" y="76.7"><tspan x="238.5">550</tspan><tspan x="478.5">500</tspan><tspan x="718.5">350</tspan><tspan x="958.5">536</tspan></text>
<text class="s2" y="90"><tspan x="238.5">103987</tspan><tspan x="478.5">105987</tspan><tspan x="718.5">107387</tspan><tspan x="958.5">109531</tspan></text>
<text class="s3" y="103"><tspan x="238.5">25.00%</tspan><tspan x="478.5">25.00%</tspan><tspan x="718.5">25.00%</tspan><tspan x="958.5">25.00%</tspan></text>
</g>
<g id="r25" transform="translate(31.3,3589.3)">
<use href="#staff4"/>
<rect class="kG" x="75" y="-3.5" width="60" height="7"/><rect class="kR" x="75" y="11.5" width="60" height="7"/>
<rect class="kG" x="315" y="-3.5" width="90" height="7"/><rect class="kR" x="315" y="11.5" width="90" height="7"/>
<use href="#Pa"/><use href="#run" x="480"/><use href="#Pb" x="720"/>
<text class="mn" y="-7"><tspan x="0.5">97</tspan><tspan x="240.5">98</tspan><tspan x="480.5">99</tspan><tspan x="720.5">100</tspan></text>
<text class="s1" y="76.7"><tspan x="238.5">574</tspan><tspan x="478.5">536</tspan><tspan x="718.5">400</tspan><tspan x="958.5">500</tspan></text>
<text class="s2" y="90"><tspan x="238.5">111827</tspan><tspan x="478.5">113971</tspan><tspan x="718.5">115571</tspan><tspan x="958.5">117571</tspan></text>
<text class="s3" y="103"><tspan x="238.5">25.00%</tspan><tspan x="478.5">25.00%</tspan><tspan x="718.5">25.00%</tspan><tspan x="958.5">25.00%</tspan></text>
</g>
<g id="r26" transform="translate(31.3,3730.3)">
<use href="#staff4"/>
<rect class="kG" x="720" y="-3.5" width="225" height="7"/><rect class="kR" x="720" y="11.5" width="225" height="7"/>
<use href="#Pa"/><use href="#Pc" x="480"/><use href="#C" x="720"/>
<text class="tp" y="-20"><tspan x="720"><tspan font-family="DejaVu Sans" font-size="13">♩</tspan>=128</tspan><tspan x="780"><tspan font-family="DejaVu Sans" font-size="13">♩</tspan>=120</tspan><tspan x="840"><tspan font-family="DejaVu Sans" font-size="13">♩</tspan>=115</tspan><tspan x="900"><tspan font-family="DejaVu Sans" font-size="13">♩</tspan>=108</tspan></text>
<text class="mn" y="-7"><tspan x="0.5">101</tspan><tspan x="240.5">102</tspan><tspan x="480.5">103</tspan><tspan x="720.5">104</tspan></text>
<text class="s1" y="76.7"><tspan x="238.5">550</tspan><tspan x="478.5">500</tspan><tspan x="718.5">350</tspan><tspan x="958.5">140</tspan></text>
<text class="s2" y="90"><tspan x="238.5">119771</tspan><tspan x="478.5">121771</tspan><tspan x="718.5">123171</tspan><tspan x="958.5">123731</tspan></text>
<text class="s3" y="103"><tspan x="238.5">25.00%</tspan><tspan x="478.5">25.00%</tspan><tspan x="718.5">25.00%</tspan><tspan x="958.5">25.00%</tspan></text>
</g>
<g id="r27" transform="translate(31.3,3871.3)">
<rect class="yb" x="0" y="-10" width="405" height="81"/>
<use href="#staff4"/>
<use href="#SC"/><use href="#SC" x="15"/><use href="#SC" x="45"/><use href="#SC" x="270"/><use href="#SC" x="300"/><use href="#SC" x="315"/><use href="#SC" x="360"/><use href="#SC" x="375"/><use href="#SC" x="405"/>
<use href="#C" x="480"/><use href="#C" x="495"/><use href="#C" x="525"/><use href="#C" x="750"/><use href="#C" x="780"/><use href="#C" x="795"/><use href="#C" x="840"/><use href="#C" x="855"/><use href="#C" x="885"/>
<rect class="gr" x="0" width="405" height="61"/>
<text class="tp" x="0" y="-20"><tspan font-family="DejaVu Sans" font-size="13">♩</tspan>=105</text>
<text class="mn" y="-7"><tspan x="0.5">105</tspan><tspan x="240.5">106</tspan><tspan x="480.5">107</tspan><tspan x="720.5">108</tspan></text>
<text class="s1" y="76.7"><tspan x="238.5">150</tspan><tspan x="478.5">300</tspan><tspan x="718.5">150</tspan><tspan x="958.5">300</tspan></text>
<text class="s2" y="90"><tspan x="238.5">124331</tspan><tspan x="478.5">125531</tspan><tspan x="718.5">126131</tspan><tspan x="958.5">127331</tspan></text>
<text class="s3" y="103"><tspan x="238.5">25.00%</tspan><tspan x="478.5">50.00%</tspan><tspan x="718.5">50.00%</tspan><tspan x="958.5">50.00%</tspan></text>
</g>
<g id="r28" transform="translate(31.3,4012.3)">
<use href="#staff4"/>
<rect class="kR" x="45" y="11.5" width="210" height="7"/><rect class="kY" x="45" y="26.5" width="210" height="7"/>
<rect class="kR" x="315" y="11.5" width="30" height="7"/><rect class="kY" x="315" y="26.5" width="30" height="7"/>
<rect class="kR" x="405" y="11.5" width="60" height="7"/><rect class="kY" x="405" y="26.5" width="60" height="7"/>
<rect class="kR" x="525" y="11.5" width="210" height="7"/><rect class="kY" x="525" y="26.5" width="210" height="7"/>
<use href="#RY"/><use href="#RY" x="15"/><use href="#RY" x="45"/><use href="#RY" x="270"/><use href="#RY" x="300"/><use href="#RY" x="315"/><use href="#RY" x="360"/><use href="#RY" x="375"/><use href="#RY" x="405"/><use href="#RY" x="480"/><use href="#RY" x="495"/><use href="#RY" x="525"/><use href="#RY" x="750"/><use href="#RY" x="780"/><use href="#RY" x="795"/>
<use href="#R" x="840"/><use href="#R" x="855"/><use href="#R" x="870"/><use href="#RY" x="885"/>
<use href="#R" x="915"/><use href="#R" x="922.5"/><use href="#R" x="930"/><use href="#R" x="937.5"/><use href="#R" x="945"/><use href="#R" x="952.5"/>
<rect class="pk" x="922" width="3" height="61"/>
<rect class="bl" x="925" width="35" height="61"/>
<text class="mn" y="-7"><tspan x="0.5">109</tspan><tspan x="240.5">110</tspan><tspan x="480.5">111</tspan><tspan x="720.5">112</tspan></text>
<text class="s1" y="76.7"><tspan x="238.5">228</tspan><tspan x="478.5">342</tspan><tspan x="718.5">228</tspan><tspan x="958.5">431</tspan></text>
<text class="s2" y="90"><tspan x="238.5">128243</tspan><tspan x="478.5">129611</tspan><tspan x="718.5">130523</tspan><tspan x="958.5">132747</tspan></text>
<text class="s3" y="103"><tspan x="238.5">50.00%</tspan><tspan x="478.5">50.00%</tspan><tspan x="718.5">50.00%</tspan><tspan x="958.5">48.12%</tspan></text>
</g>
<g id="r29" transform="translate(31.3,4153.3)">
<use href="#staff4"/>
<use href="#D1"/><use href="#D2" x="240"/><use href="#sD1" x="480"/><use href="#D2" x="720"/>
<rect class="gr" x="480" width="135" height="61"/>
<rect class="bl" x="0" width="960" height="61"/>
<text class="mn" y="-7"><tspan x="0.5">113</tspan><tspan x="240.5">114</tspan><tspan x="480.5">115</tspan><tspan x="720.5">116</tspan></text>
<text class="s1" y="76.7"><tspan x="238.5">500</tspan><tspan x="478.5">600</tspan><tspan x="718.5">500</tspan><tspan x="958.5">600</tspan></text>
<text class="s2" y="90"><tspan x="238.5">136747</tspan><tspan x="478.5">141547</tspan><tspan x="718.5">145547</tspan><tspan x="958.5">150347</tspan></text>
<text class="s3" y="103"><tspan x="238.5">35.62%</tspan><tspan x="478.5">23.12%</tspan><tspan x="718.5">35.62%</tspan><tspan x="958.5">23.12%</tspan></text>
</g>
<g id="r30" transform="translate(31.3,4294.3)">
<use href="#staff4"/>
<rect class="kG" x="135" y="-3.5" width="105" height="7"/><rect class="kR" x="135" y="11.5" width="105" height="7"/>
<rect class="kG" x="315" y="-3.5" width="30" height="7"/><rect class="kR" x="315" y="11.5" width="30" height="7"/>
<use href="#D1"/><use href="#D2" x="240"/><use href="#D1" x="480"/><use href="#D2" x="720"/>
<rect class="bl" x="0" width="922.5" height="61"/>
<rect class="pk" x="922.5" width="7.5" height="61"/>
<text class="mn" y="-7"><tspan x="0.5">117</tspan><tspan x="240.5">118</tspan><tspan x="480.5">119</tspan><tspan x="720.5">120</tspan></text>
<text class="s1" y="76.7"><tspan x="238.5">542</tspan><tspan x="478.5">612</tspan><tspan x="718.5">500</tspan><tspan x="958.5">600</tspan></text>
<text class="s2" y="90"><tspan x="238.5">154683</tspan><tspan x="478.5">159579</tspan><tspan x="718.5">163579</tspan><tspan x="958.5">168179</tspan></text>
<text class="s3" y="103"><tspan x="238.5">10.62%</tspan><tspan x="478.5">0.00%</tspan><tspan x="718.5">0.00%</tspan><tspan x="958.5">0.00%</tspan></text>
</g>
<g id="r31" transform="translate(31.3,4435.3)">
<rect class="yb" x="120" y="-10" width="105" height="81"/>
<use href="#staff4"/>
<rect class="kG" x="195" y="-3.5" width="30" height="7"/><rect class="kR" x="195" y="11.5" width="30" height="7"/>
<use href="#sB" x="120"/><use href="#SC" x="135"/><use href="#SC" x="165"/><use href="#SC" x="195"/>
<use href="#oyr"/>
<rect class="gr" x="120" width="105" height="61"/>
<rect class="pk" x="240" width="3.2" height="61"/>
<rect class="bl" x="243.2" width="716.8" height="61"/>
<text class="mn" y="-7"><tspan x="0.5">121</tspan><tspan x="240.5">122</tspan><tspan x="480.5">123</tspan><tspan x="720.5">124</tspan></text>
<text class="s1" y="76.7"><tspan x="238.5">187</tspan><tspan x="478.5">400</tspan><tspan x="718.5">400</tspan><tspan x="958.5">400</tspan></text>
<text class="s2" y="90"><tspan x="238.5">168927</tspan><tspan x="478.5">172127</tspan><tspan x="718.5">175327</tspan><tspan x="958.5">178527</tspan></text>
<text class="s3" y="103"><tspan x="238.5">26.70%</tspan><tspan x="478.5">14.45%</tspan><tspan x="718.5">1.95%</tspan><tspan x="958.5">0.00%</tspan></text>
</g>
<g id="r32" transform="translate(31.3,4576.3)">
<use href="#staff4"/>
<use href="#R8q"/><use href="#Y8q" x="120"/><use href="#oyr"/>
<rect class="bl" x="0" width="277" height="61"/>
<rect class="pk" x="277" width="7.8" height="61"/>
<text class="mn" y="-7"><tspan x="0.5">125</tspan><tspan x="240.5">126</tspan><tspan x="480.5">127</tspan><tspan x="720.5">128</tspan></text>
<text class="s1" y="76.7"><tspan x="238.5">400</tspan><tspan x="478.5">400</tspan><tspan x="718.5">400</tspan><tspan x="958.5">400</tspan></text>
<text class="s2" y="90"><tspan x="238.5">181727</tspan><tspan x="478.5">183727</tspan><tspan x="718.5">185327</tspan><tspan x="958.5">186927</tspan></text>
<text class="s3" y="103"><tspan x="238.5">0.00%</tspan><tspan x="478.5">0.00%</tspan><tspan x="718.5">0.00%</tspan><tspan x="958.5">0.00%</tspan></text>
</g>
<g id="r33" transform="translate(31.3,4717.3)">
<use href="#staff4"/>
<rect class="kG" x="240" y="-3.5" width="225" height="7"/><rect class="kR" x="480" y="11.5" width="225" height="7"/><rect class="kB" x="720" y="41.5" width="240" height="7"/>
<use href="#R8q"/><use href="#Y8q" x="120"/><use href="#G" x="240"/><use href="#R" x="480"/><use href="#B" x="720"/>
<text class="mn" y="-7"><tspan x="0.5">129</tspan><tspan x="240.5">130</tspan><tspan x="480.5">131</tspan><tspan x="720.5">132</tspan></text>
<text class="s1" y="76.7"><tspan x="238.5">400</tspan><tspan x="478.5">70</tspan><tspan x="718.5">70</tspan><tspan x="958.5">73</tspan></text>
<text class="s2" y="90"><tspan x="238.5">188527</tspan><tspan x="478.5">188807</tspan><tspan x="718.5">189087</tspan><tspan x="958.5">189379</tspan></text>
<text class="s3" y="103"><tspan x="238.5">0.00%</tspan><tspan x="478.5">0.00%</tspan><tspan x="718.5">0.00%</tspan><tspan x="958.5">0.00%</tspan></text>
</g>
<g id="r34" transform="translate(31.3,4858.3)">
<use href="#staff4"/>
<rect class="kB" x="0" y="41.5" width="195" height="7"/><rect class="kG" x="240" y="-3.5" width="225" height="7"/><rect class="kR" x="480" y="11.5" width="225" height="7"/><rect class="kB" x="720" y="41.5" width="240" height="7"/>
<use href="#sG" x="240"/><use href="#R" x="480"/><use href="#B" x="720"/>
<rect class="gr" x="240" width="225" height="61"/>
<text class="mn" y="-7"><tspan x="0.5">133</tspan><tspan x="240.5">134</tspan><tspan x="480.5">135</tspan><tspan x="720.5">136</tspan></text>
<text class="s1" y="76.7"><tspan x="238.5">39</tspan><tspan x="478.5">70</tspan><tspan x="718.5">70</tspan><tspan x="958.5">73</tspan></text>
<text class="s2" y="90"><tspan x="238.5">189535</tspan><tspan x="478.5">189815</tspan><tspan x="718.5">190095</tspan><tspan x="958.5">190387</tspan></text>
<text class="s3" y="103"><tspan x="238.5">0.00%</tspan><tspan x="478.5">37.75%</tspan><tspan x="718.5">37.75%</tspan><tspan x="958.5">37.75%</tspan></text>
</g>
<g id="r35" transform="translate(31.3,4999.3)">
<use href="#staff4"/>
<rect class="kB" x="0" y="41.5" width="225" height="7"/>
<use href="#B8" x="240"/><use href="#G8" x="480"/><use href="#R8" x="720"/>
<text class="mn" y="-7"><tspan x="0.5">137</tspan><tspan x="240.5">138</tspan><tspan x="480.5">139</tspan><tspan x="720.5">140</tspan></text>
<text class="s1" y="76.7"><tspan x="238.5">45</tspan><tspan x="478.5">200</tspan><tspan x="718.5">200</tspan><tspan x="958.5">200</tspan></text>
<text class="s2" y="90"><tspan x="238.5">190567</tspan><tspan x="478.5">191367</tspan><tspan x="718.5">192167</tspan><tspan x="958.5">192967</tspan></text>
<text class="s3" y="103"><tspan x="238.5">37.75%</tspan><tspan x="478.5">37.75%</tspan><tspan x="718.5">37.75%</tspan><tspan x="958.5">37.75%</tspan></text>
</g>
<g id="r36" transform="translate(31.3,5140.3)">
<rect class="yb" x="240" y="-10" width="450" height="81"/>
<use href="#staff4"/>
<use href="#Y8"/><use href="#sB8" x="240"/><use href="#sR8" x="480"/><use href="#Y8" x="720"/>
<rect class="gr" x="240" width="450" height="61"/>
<text class="mn" y="-7"><tspan x="0.5">141</tspan><tspan x="240.5">142</tspan><tspan x="480.5">143</tspan><tspan x="720.5">144</tspan></text>
<text class="s1" y="76.7"><tspan x="238.5">200</tspan><tspan x="478.5">200</tspan><tspan x="718.5">200</tspan><tspan x="958.5">200</tspan></text>
<text class="s2" y="90"><tspan x="238.5">193767</tspan><tspan x="478.5">194567</tspan><tspan x="718.5">195367</tspan><tspan x="958.5">196167</tspan></text>
<text class="s3" y="103"><tspan x="238.5">37.75%</tspan><tspan x="478.5">37.75%</tspan><tspan x="718.5">62.75%</tspan><tspan x="958.5">62.75%</tspan></text>
</g>
<g id="r37" transform="translate(31.3,5281.3)">
<use href="#staff4"/>
<use href="#O8"/><use href="#B8" x="240"/><use href="#G8" x="480"/><use href="#R8" x="720"/>
<rect class="pk" x="480" width="8" height="61"/>
<rect class="bl" x="488" width="472" height="61"/>
<text class="mn" y="-7"><tspan x="0.5">145</tspan><tspan x="240.5">146</tspan><tspan x="480.5">147</tspan><tspan x="720.5">148</tspan></text>
<text class="s1" y="76.7"><tspan x="238.5">200</tspan><tspan x="478.5">200</tspan><tspan x="718.5">200</tspan><tspan x="958.5">200</tspan></text>
<text class="s2" y="90"><tspan x="238.5">196967</tspan><tspan x="478.5">197767</tspan><tspan x="718.5">199367</tspan><tspan x="958.5">200967</tspan></text>
<text class="s3" y="103"><tspan x="238.5">62.75%</tspan><tspan x="478.5">62.75%</tspan><tspan x="718.5">50.76%</tspan><tspan x="958.5">38.26%</tspan></text>
</g>
<g id="r38" transform="translate(31.3,5422.3)">
<use href="#staff4"/>
<rect class="kG" x="180" y="-3.5" width="45" height="7"/>
<use href="#Y4"/><use href="#G" x="120"/><use href="#G" x="150"/><use href="#G" x="180"/>
<use href="#B8" x="240"/><use href="#R8" x="480"/><use href="#Y8" x="720"/>
<rect class="bl" x="0" width="960" height="61"/>
<text class="mn" y="-7"><tspan x="0.5">149</tspan><tspan x="240.5">150</tspan><tspan x="480.5">151</tspan><tspan x="720.5">152</tspan></text>
<text class="s1" y="76.7"><tspan x="238.5">184</tspan><tspan x="478.5">200</tspan><tspan x="718.5">200</tspan><tspan x="958.5">200</tspan></text>
<text class="s2" y="90"><tspan x="238.5">202439</tspan><tspan x="478.5">204039</tspan><tspan x="718.5">205639</tspan><tspan x="958.5">207239</tspan></text>
<text class="s3" y="103"><tspan x="238.5">25.76%</tspan><tspan x="478.5">13.26%</tspan><tspan x="718.5">0.76%</tspan><tspan x="958.5">0.00%</tspan></text>
</g>
<g id="r39" transform="translate(31.3,5563.3)">
<use href="#staff4"/>
<rect class="kB" x="240" y="41.5" width="720" height="7"/>
<use href="#O8"/><use href="#B" x="240"/>
<rect class="bl" x="0" width="253.5" height="61"/>
<text class="mn" y="-7"><tspan x="0.5">153</tspan><tspan x="240.5">154</tspan><tspan x="480.5">155</tspan><tspan x="720.5">156</tspan></text>
<text class="s1" y="76.7"><tspan x="238.5">200</tspan><tspan x="478.5">73</tspan><tspan x="718.5">48</tspan><tspan x="958.5">48</tspan></text>
<text class="s2" y="90"><tspan x="238.5">208839</tspan><tspan x="478.5">209243</tspan><tspan x="718.5">209435</tspan><tspan x="958.5">209627</tspan></text>
<text class="s3" y="103"><tspan x="238.5">0.00%</tspan><tspan x="478.5">0.00%</tspan><tspan x="718.5">0.00%</tspan><tspan x="958.5">0.00%</tspan></text>
</g>
<g id="r40" transform="translate(31.3,5704.3)">
<use href="#staff4"/>
<rect class="kB" x="0" y="41.5" width="960" height="7"/>
<text class="mn" y="-7"><tspan x="0.5">157</tspan><tspan x="240.5">158</tspan><tspan x="480.5">159</tspan><tspan x="720.5">160</tspan></text>
<text class="s1" y="76.7"><tspan x="238.5">48</tspan><tspan x="478.5">48</tspan><tspan x="718.5">48</tspan><tspan x="958.5">48</tspan></text>
<text class="s2" y="90"><tspan x="238.5">209819</tspan><tspan x="478.5">210011</tspan><tspan x="718.5">210203</tspan><tspan x="958.5">210395</tspan></text>
<text class="s3" y="103"><tspan x="238.5">0.00%</tspan><tspan x="478.5">0.00%</tspan><tspan x="718.5">0.00%</tspan><tspan x="958.5">0.00%</tspan></text>
</g>
<g id="r41" transform="translate(31.3,5845.3)">
<use href="#staff2"/>
<rect class="kB" x="0" y="41.5" width="360" height="7"/>
<text class="mn" y="-7"><tspan x="0.5">161</tspan><tspan x="240.5">162</tspan></text>
<text class="s1" y="76.7"><tspan x="238.5">48</tspan><tspan x="478.5">24</tspan></text>
<text class="s2" y="90"><tspan x="238.5">210587</tspan><tspan x="478.5">210683</tspan></text>
<text class="s3" y="103"><tspan x="238.5">0.00%</tspan><tspan x="478.5">0.00%</tspan></text>
</g>
<g id="connectors"/>
</g>
</svg>
